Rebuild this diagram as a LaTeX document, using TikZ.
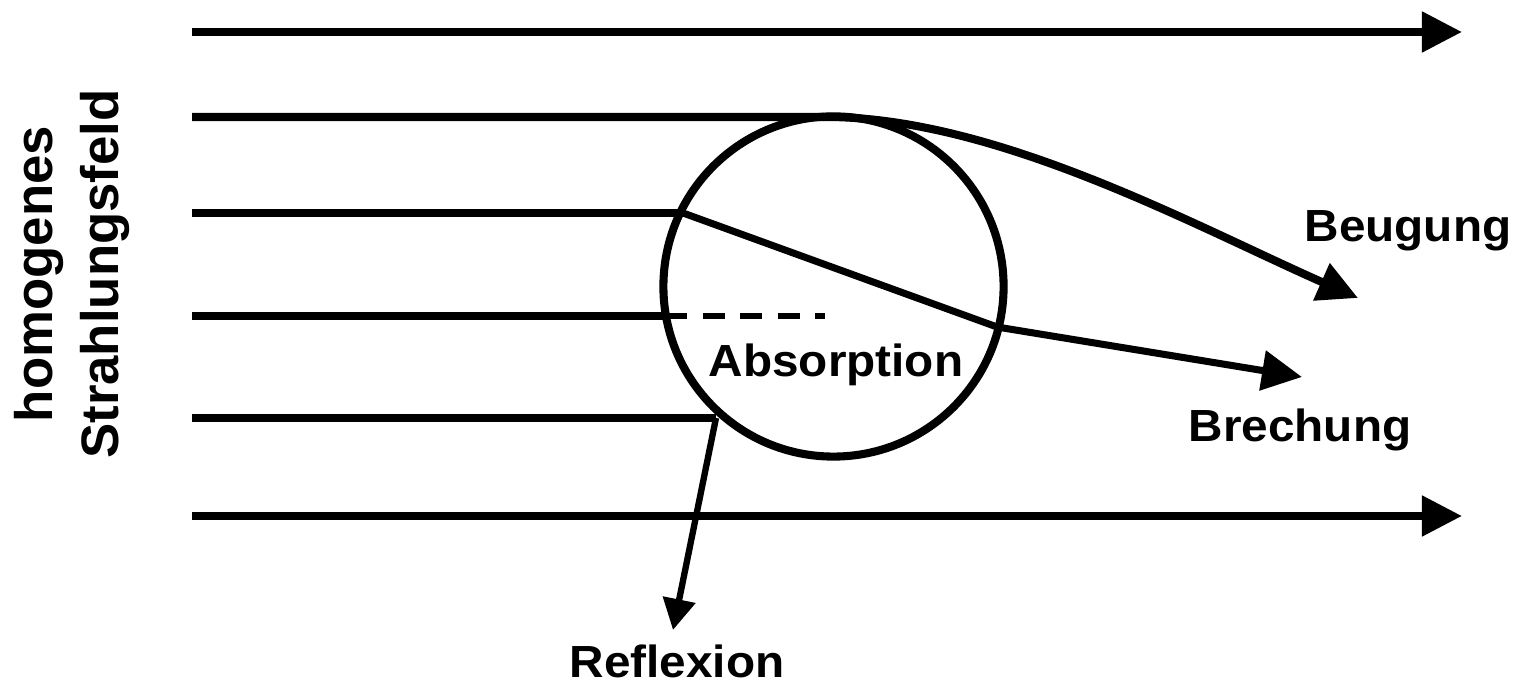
\documentclass[tikz,border=0pt]{standalone}
\usepackage{fontspec}
\setmainfont{Liberation Sans}
\newfontfamily\lblfont{Liberation Sans}[FakeStretch=1.06]
\usetikzlibrary{arrows.meta}
\tikzset{
  beam/.style={draw=black, line width=2.3pt},
  ray/.style={draw=black, line width=2pt},
  thinray/.style={draw=black, line width=1.8pt},
  arr/.style={-{Triangle[length=0.4cm,width=0.39cm]}},
  sarr/.style={-{Triangle[length=0.31cm,width=0.32cm]}},
  darr/.style={draw=black, line width=1.7pt, dash pattern=on 6.26pt off 4.41pt},
  lbl/.style={font=\lblfont\bfseries\fontsize{12.8}{15}\selectfont, inner sep=0pt, anchor=base},
  side/.style={font=\bfseries\fontsize{15}{18.8}\selectfont, inner sep=0pt, align=center, rotate=90}
}
\begin{document}
\begin{tikzpicture}[x=0.01cm,y=-0.01cm]
  \useasboundingbox (0,0) rectangle (1515,683);
  % particle
  \node[circle, draw, line width=2.3pt, minimum size=3.4cm, inner sep=0pt] (drop) at (833.5,286.5) {};
  % beam start and end points
  \coordinate (a0) at (192,32);   \coordinate (a1) at (1462,32);
  \coordinate (b0) at (192,117);  \coordinate (b1) at (830,117);
  \coordinate (b2) at (1358,298);
  \coordinate (c0) at (192,213);  \coordinate (c1) at (683,213);
  \coordinate (c2) at (997,327);  \coordinate (c3) at (1302,377);
  \coordinate (d0) at (192,316);  \coordinate (d1) at (665,316);
  \coordinate (d2) at (825,316);
  \coordinate (e0) at (192,418);  \coordinate (e1) at (716,418);
  \coordinate (e2) at (673,630);
  \coordinate (f0) at (192,516);  \coordinate (f1) at (1462,516);
  % undisturbed beams
  \draw[beam, arr] (a0) -- (a1);
  \draw[beam, arr] (f0) -- (f1);
  % Beugung
  \draw[beam, arr] (b0) -- (b1) .. controls (1000,119) and (1195,226) .. (b2);
  % Brechung
  \draw[beam] (c0) -- (c1);
  \draw[ray, arr] (c1) -- (c2) -- (c3);
  % Absorption
  \draw[beam] (d0) -- (d1);
  \draw[darr] (d1) -- (d2);
  % Reflexion
  \draw[beam] (e0) -- (e1);
  \draw[thinray, sarr] (e1) -- (e2);
  % labels
  \node[side] (field) at (72,274) {homogenes\\Strahlungsfeld};
  \node[lbl] (beug) at (1408,242) {Beugung};
  \node[lbl] (brech) at (1300,442) {Brechung};
  \node[lbl] (abs) at (836,377) {Absorption};
  \node[lbl] (refl) at (677,678) {Reflexion};
\end{tikzpicture}
\end{document}
